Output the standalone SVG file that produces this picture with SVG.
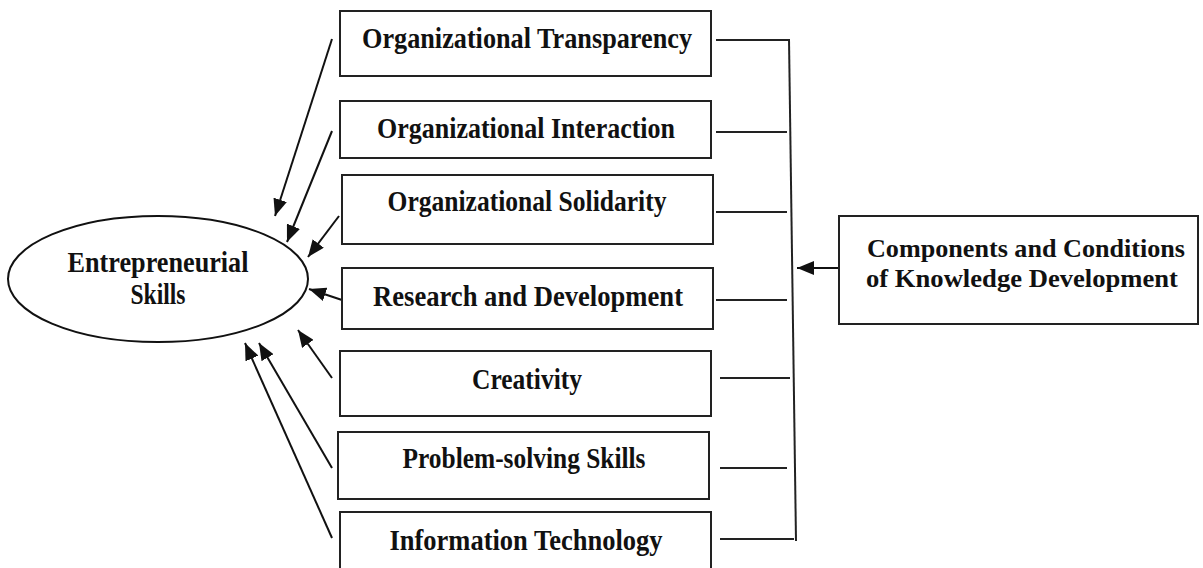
<svg xmlns="http://www.w3.org/2000/svg" width="1203" height="568" viewBox="0 0 1203 568">
  <style>
    .box { fill: #ffffff; stroke: #222222; stroke-width: 2; }
    .oval { fill: #ffffff; stroke: #111111; stroke-width: 2; }
    .lbl { font-family: "Liberation Serif", "Times New Roman", serif; font-weight: bold; fill: #111111; }
    .big { font-size: 30px; }
    .mid { font-size: 26px; }
    .wire { stroke: #222222; stroke-width: 2; fill: none; }
    .arr { stroke: #111111; stroke-width: 2; fill: none; marker-end: url(#head); }
  </style>
  <defs>
    <marker id="head" markerUnits="userSpaceOnUse" markerWidth="17" markerHeight="14" viewBox="0 0 17 14" refX="17" refY="7" orient="auto">
      <path d="M0,0 L17,7 L0,14 z" fill="#111111"/>
    </marker>
  </defs>

  <rect width="1203" height="568" fill="#ffffff"/>

  <!-- connectors -->
  <g id="connectors">
    <!-- factor boxes into the ellipse -->
    <line class="arr" x1="332" y1="39" x2="275" y2="216"/>
    <line class="arr" x1="332" y1="131" x2="287" y2="242"/>
    <line class="arr" x1="339" y1="216" x2="308" y2="257"/>
    <line class="arr" x1="342" y1="300" x2="309" y2="289"/>
    <line class="arr" x1="332" y1="378" x2="298" y2="330"/>
    <line class="arr" x1="332" y1="468" x2="259" y2="343"/>
    <line class="arr" x1="332" y1="538" x2="245" y2="343"/>
    <!-- bracket on the right side of the boxes -->
    <line class="wire" x1="716" y1="40" x2="789" y2="40"/>
    <line class="wire" x1="716" y1="132" x2="787" y2="132"/>
    <line class="wire" x1="716" y1="212" x2="787" y2="212"/>
    <line class="wire" x1="716" y1="300" x2="787" y2="300"/>
    <line class="wire" x1="720" y1="378" x2="790" y2="378"/>
    <line class="wire" x1="720" y1="468" x2="787" y2="468"/>
    <line class="wire" x1="720" y1="539" x2="794" y2="539"/>
    <line class="wire" x1="789" y1="39" x2="796" y2="541"/>
    <line class="arr" x1="839" y1="268" x2="797" y2="268"/>
  </g>

  <g id="entrepreneurial-skills">
    <ellipse class="oval" cx="158" cy="279" rx="150" ry="63"/>
    <text class="lbl big" x="158" y="272" text-anchor="middle" textLength="181" lengthAdjust="spacingAndGlyphs">Entrepreneurial</text>
    <text class="lbl big" x="158" y="304" text-anchor="middle" textLength="55" lengthAdjust="spacingAndGlyphs">Skills</text>
  </g>

  <g id="organizational-transparency">
    <rect class="box" x="340" y="11" width="371" height="65"/>
    <text class="lbl big" x="527" y="48" text-anchor="middle" textLength="330" lengthAdjust="spacingAndGlyphs">Organizational Transparency</text>
  </g>

  <g id="organizational-interaction">
    <rect class="box" x="340" y="101" width="371" height="57"/>
    <text class="lbl big" x="526" y="138" text-anchor="middle" textLength="298" lengthAdjust="spacingAndGlyphs">Organizational Interaction</text>
  </g>

  <g id="organizational-solidarity">
    <rect class="box" x="342" y="175" width="371" height="69"/>
    <text class="lbl big" x="527" y="211" text-anchor="middle" textLength="279" lengthAdjust="spacingAndGlyphs">Organizational Solidarity</text>
  </g>

  <g id="research-and-development">
    <rect class="box" x="342" y="268" width="371" height="61"/>
    <text class="lbl big" x="528" y="306" text-anchor="middle" textLength="310" lengthAdjust="spacingAndGlyphs">Research and Development</text>
  </g>

  <g id="creativity">
    <rect class="box" x="340" y="351" width="371" height="65"/>
    <text class="lbl big" x="527" y="389" text-anchor="middle" textLength="110" lengthAdjust="spacingAndGlyphs">Creativity</text>
  </g>

  <g id="problem-solving-skills">
    <rect class="box" x="338" y="432" width="371" height="67"/>
    <text class="lbl big" x="524" y="468" text-anchor="middle" textLength="243" lengthAdjust="spacingAndGlyphs">Problem-solving Skills</text>
  </g>

  <g id="information-technology">
    <rect class="box" x="340" y="512" width="371" height="70"/>
    <text class="lbl big" x="526" y="550" text-anchor="middle" textLength="273" lengthAdjust="spacingAndGlyphs">Information Technology</text>
  </g>

  <g id="knowledge-development">
    <rect class="box" x="839" y="216" width="359" height="108"/>
    <text class="lbl mid" x="1026" y="257" text-anchor="middle" textLength="318" lengthAdjust="spacingAndGlyphs">Components and Conditions</text>
    <text class="lbl mid" x="1022" y="287" text-anchor="middle" textLength="312" lengthAdjust="spacingAndGlyphs">of Knowledge Development</text>
  </g>
</svg>
